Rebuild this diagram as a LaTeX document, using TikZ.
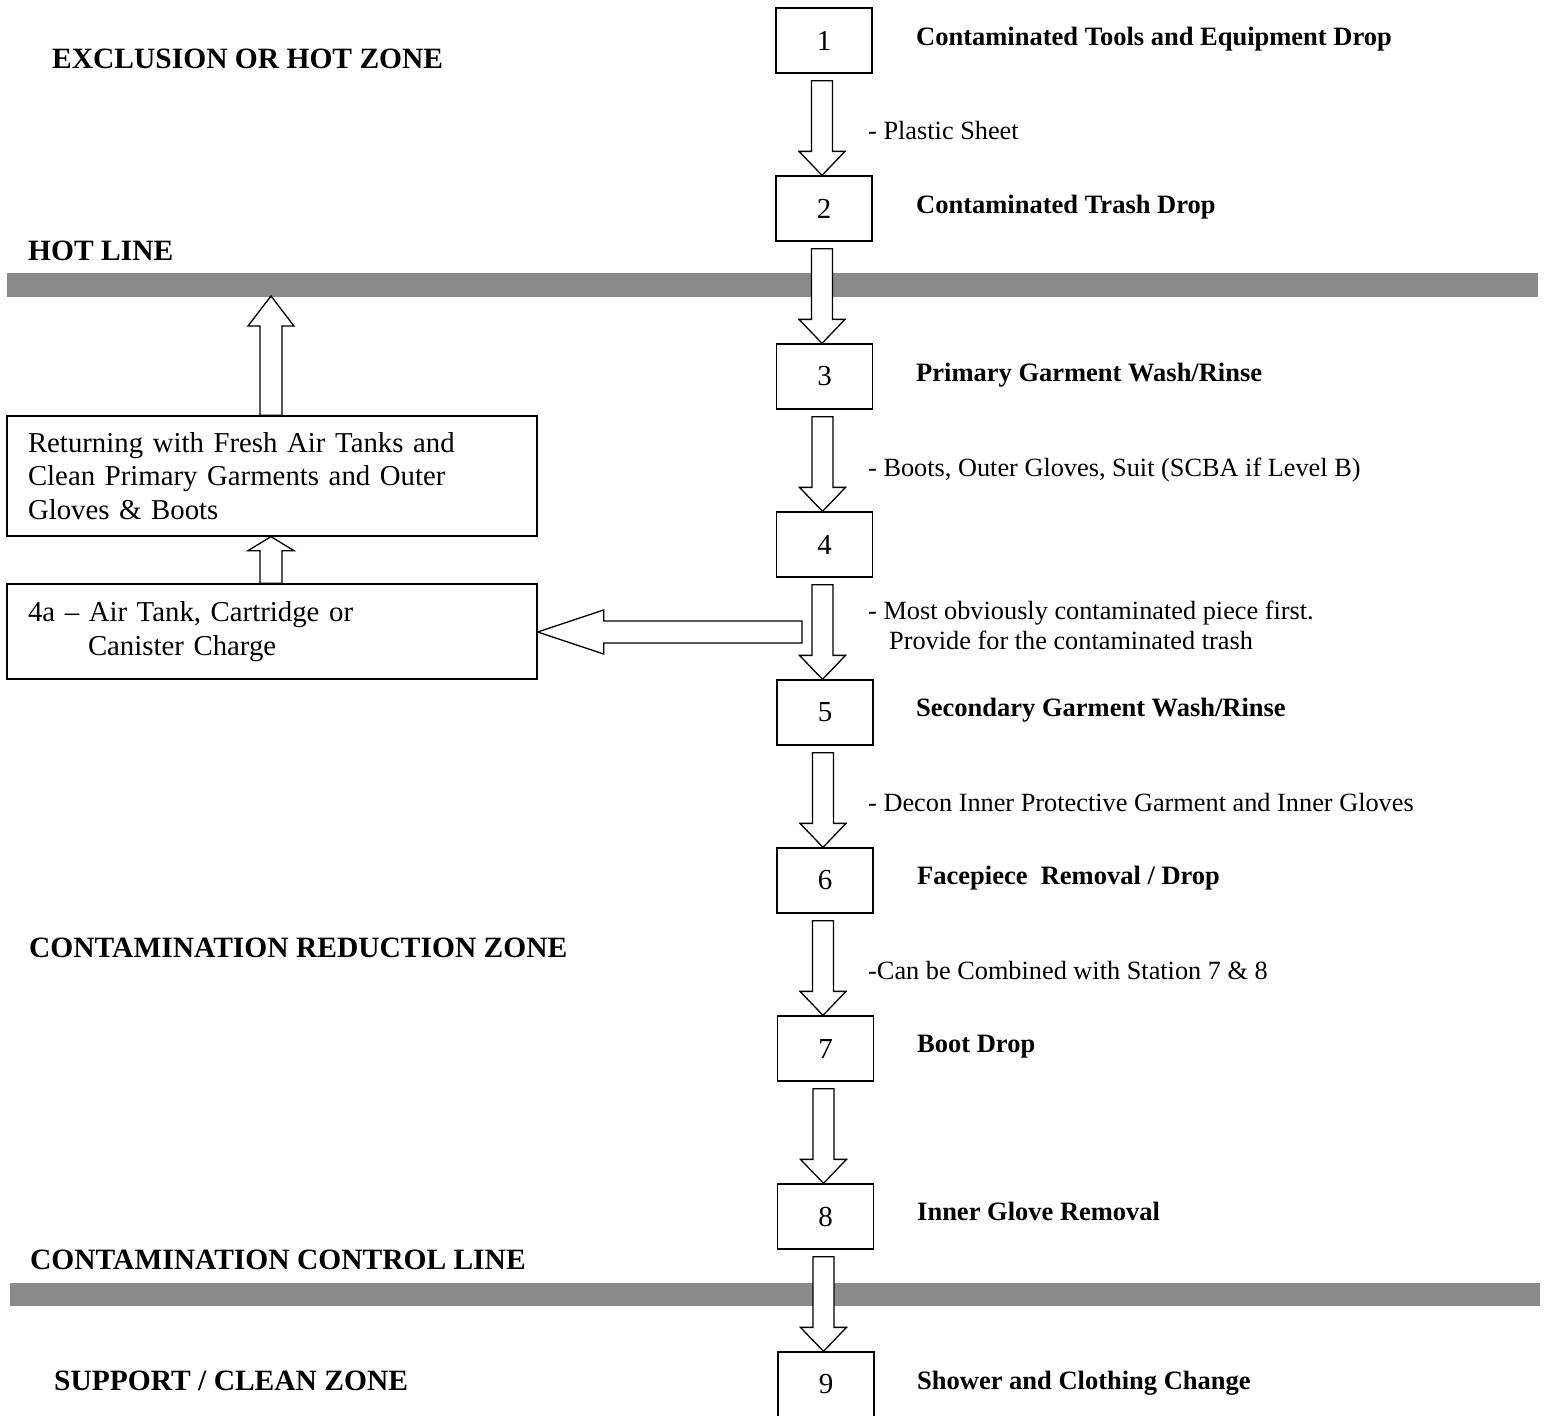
\documentclass[tikz,border=0pt]{standalone}
\usepackage{fontspec}
\setmainfont{Liberation Serif}
\usetikzlibrary{calc}
\definecolor{barcol}{RGB}{138,138,138}
\tikzset{
  stepbox/.style={draw, line width=1.3pt, fill=white, minimum width=96pt, minimum height=65pt, inner sep=0pt, font=\fontsize{29}{33}\selectfont},
  sidebox/.style={draw, line width=1.3pt, fill=white, minimum width=530pt, inner xsep=21pt, inner ysep=0pt, align=left, text width=488pt, font=\fontsize{28.8}{33.5}\selectfont},
  zonelbl/.style={anchor=base west, inner sep=0pt, font=\fontsize{29.5}{33}\selectfont\bfseries},
  steplbl/.style={anchor=base west, inner sep=0pt, font=\fontsize{26.5}{30}\selectfont\bfseries},
  notelbl/.style={anchor=base west, inner sep=0pt, font=\fontsize{26.3}{30}\selectfont},
  blk/.style={draw=black, fill=white, line width=1.3pt, line join=miter},
  hotbar/.style={fill=barcol}
}
\newcommand{\darrow}[2]{%
  \draw[blk] let \p1=(#1.south), \p2=(#2.north) in
   (\x1-12.5pt,\y1-7pt) -- (\x1+8.5pt,\y1-7pt) -- (\x1+8.5pt,\y2+24pt) --
   (\x1+21pt,\y2+24pt) -- (\x1-2pt,\y2) -- (\x1-25pt,\y2+24pt) --
   (\x1-12.5pt,\y2+24pt) -- cycle;}
\newcommand{\uarrow}[3]{%
  \draw[blk] let \p1=(#1), \p2=(#2) in
   (\x2-11pt,\y1) -- (\x2+11pt,\y1) -- (\x2+11pt,\y2-#3) --
   (\x2+23pt,\y2-#3) -- (\x2,\y2) -- (\x2-23pt,\y2-#3) --
   (\x2-11pt,\y2-#3) -- cycle;}
\begin{document}
\begin{tikzpicture}[x=1pt,y=1pt]
\useasboundingbox (0,0) rectangle (1545,-1416);
% lines
\fill[hotbar] (7,-273) rectangle (1538,-297);
\fill[hotbar] (10,-1283) rectangle (1540,-1306);
% zone labels
\node[zonelbl] (zex) at (52,-68) {EXCLUSION OR HOT ZONE};
\node[zonelbl] (zhl) at (28,-260) {HOT LINE};
\node[zonelbl] (zcr) at (29,-957) {CONTAMINATION REDUCTION ZONE};
\node[zonelbl] (zcc) at (30,-1269) {CONTAMINATION CONTROL LINE};
\node[zonelbl] (zsc) at (54,-1390) {SUPPORT / CLEAN ZONE};
% step boxes
\node[stepbox] (s1) at (824,-40.5) {1};
\node[stepbox] (s2) at (824,-208.5) {2};
\node[stepbox] (s3) at (824.5,-376.5) {3};
\node[stepbox] (s4) at (824.5,-544.5) {4};
\node[stepbox] (s5) at (825,-712.5) {5};
\node[stepbox] (s6) at (825,-880.5) {6};
\node[stepbox] (s7) at (825.5,-1048.5) {7};
\node[stepbox] (s8) at (825.5,-1216.5) {8};
\node[stepbox] (s9) at (826,-1384.5) {9};
% step labels
\node[steplbl] (l1) at (916,-45) {Contaminated Tools and Equipment Drop};
\node[steplbl] (l2) at (916,-213) {Contaminated Trash Drop};
\node[steplbl] (l3) at (916,-381) {Primary Garment Wash/Rinse};
\node[steplbl] (l5) at (916,-716) {Secondary Garment Wash/Rinse};
\node[steplbl] (l6) at (917,-884) {Facepiece\ \ Removal / Drop};
\node[steplbl] (l7) at (917,-1052) {Boot Drop};
\node[steplbl] (l8) at (917,-1220) {Inner Glove Removal};
\node[steplbl] (l9) at (917,-1389) {Shower and Clothing Change};
% notes
\node[notelbl] (n1) at (868,-139) {- Plastic Sheet};
\node[notelbl] (n3) at (868,-476) {- Boots, Outer Gloves, Suit (SCBA if Level B)};
\node[notelbl] (n4a) at (868,-619) {- Most obviously contaminated piece first.};
\node[notelbl] (n4b) at (889,-649) {Provide for the contaminated trash};
\node[notelbl] (n5) at (868,-811) {- Decon Inner Protective Garment and Inner Gloves};
\node[notelbl] (n6) at (868,-979) {-Can be Combined with Station 7 \& 8};
% side boxes
\node[sidebox, minimum height=120pt] (ret) at (272,-476) {Returning with Fresh Air Tanks and\\Clean Primary Garments and Outer\\Gloves \& Boots};
\node[sidebox, minimum height=95pt] (fa) at (272,-631.5) {4a – Air Tank, Cartridge or\\\hspace*{60pt}Canister Charge};
\coordinate (hl) at (271,-296);
\coordinate (la) at (802,-632);
% flow arrows
\darrow{s1}{s2}
\darrow{s2}{s3}
\darrow{s3}{s4}
\darrow{s4}{s5}
\darrow{s5}{s6}
\darrow{s6}{s7}
\darrow{s7}{s8}
\darrow{s8}{s9}
% return arrows
\uarrow{ret.north -| hl}{hl}{30pt}
\uarrow{fa.north -| hl}{ret.south -| hl}{14pt}
\draw[blk] let \p1=(la), \p2=(fa.east) in
  (\x1,\y1+11pt) -- (\x1,\y1-11pt) -- (\x2+66pt,\y1-11pt) -- (\x2+66pt,\y1-22pt) --
  (\x2,\y1) -- (\x2+66pt,\y1+22pt) -- (\x2+66pt,\y1+11pt) -- cycle;
\end{tikzpicture}
\end{document}
